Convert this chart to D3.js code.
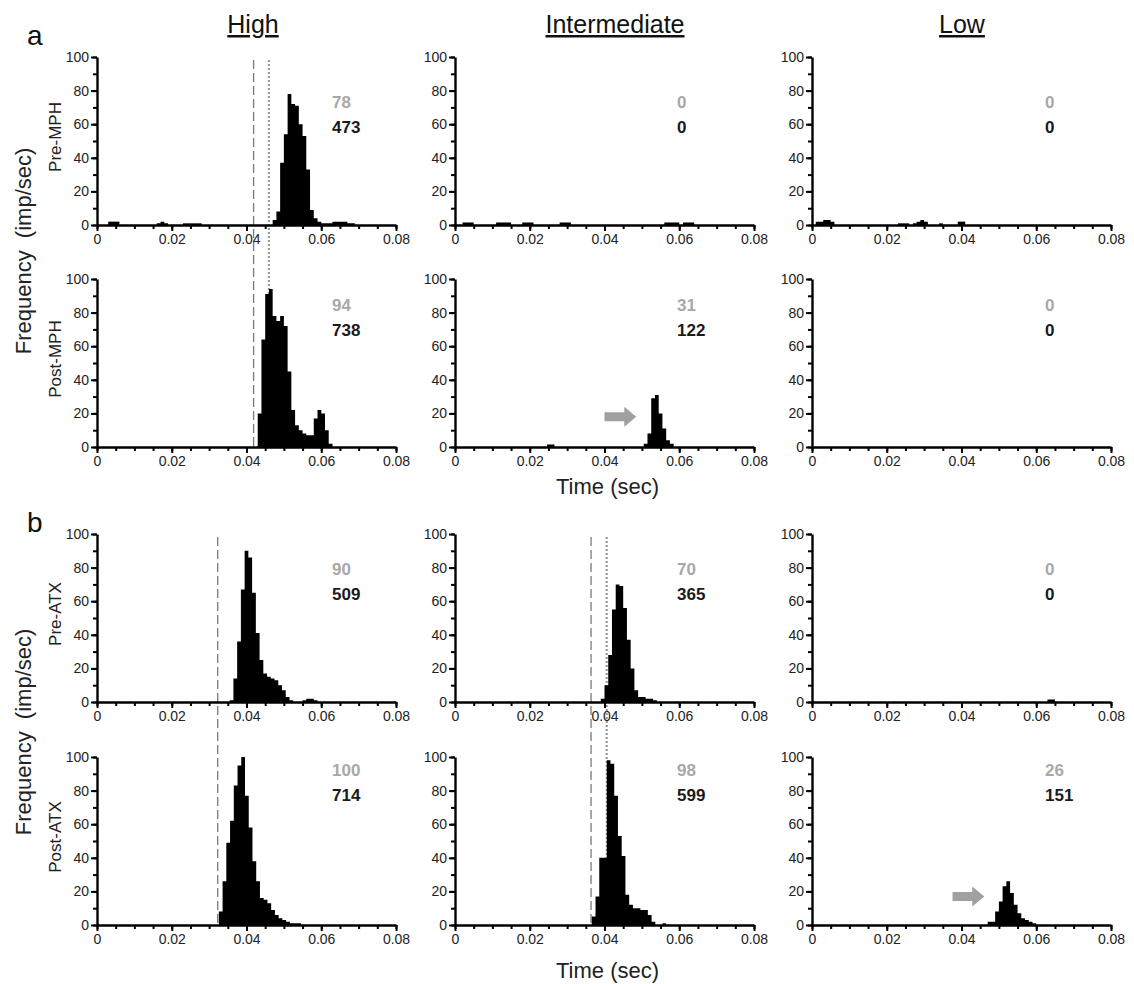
<!DOCTYPE html>
<html>
<head>
<meta charset="utf-8">
<script src="https://cdn.jsdelivr.net/npm/d3@7"></script>
<style>
  body { margin: 0; background: #fff; }
  svg { display: block; font-family: "Liberation Sans", Arial, sans-serif; }
</style>
</head>
<body>
<div id="chart"></div>
<script>
// ---- data ----
const groups = ['High', 'Intermediate', 'Low'];
const conditions = ['Pre-MPH', 'Post-MPH', 'Pre-ATX', 'Post-ATX'];
const xTicks = [0, 0.02, 0.04, 0.06, 0.08];
const yTicks = [0, 20, 40, 60, 80, 100];

// histogram runs: [start of first 1 ms bin (ms), rates (imp/sec) of consecutive bins]
const preMPH_high = [[3, [2, 2, 2]], [16, [1, 2, 1]], [23, [1, 1, 1, 1, 1]],
  [47, [3, 8, 37, 54, 78, 72, 71, 60, 53, 33, 9, 4, 2, 1, 1, 1, 2, 2, 2, 2, 1, 1]]];
const preMPH_int = [[2, [1.5, 1.5, 1.5]], [11, [1.5, 1.5, 1.5, 1.5]], [18, [1.5, 1.5, 1.5]],
  [28, [1.5, 1.5, 1.5]], [56, [1.5, 1.5, 1.5, 1.5]], [61, [1.5, 1.5, 1.5]]];
const preMPH_low = [[1, [2, 2, 3, 3, 2]], [23, [1, 1, 1]], [27, [1, 2, 3, 2]], [34, [1]], [39, [2, 2]]];

const postMPH_high = [[43, [20, 64, 91, 94, 78, 75, 78, 72, 45, 22, 13, 10, 8, 7, 7, 17, 22, 20, 10, 2]]];
const postMPH_int = [[24.6, [1.5, 1.5]], [50.5, [2, 8, 29, 31, 20, 11, 4, 2]]];
const postMPH_low = [];

const preATX_high = [[35.5, [1, 14, 36, 67, 90, 86, 65, 41, 25, 17, 15, 14, 13, 10, 7, 3, 1]], [55, [1, 2, 2, 1]]];
const preATX_int = [[39, [2, 10, 28, 55, 70, 69, 56, 37, 20, 7, 3, 3, 2, 2, 1]]];
const preATX_low = [[63, [1.5, 1.5]]];

const postATX_high = [[32.6, [8, 26, 49, 62, 83, 95, 100, 77, 58, 38, 26, 16, 15, 13, 9, 6, 4, 3, 2, 1, 1, 1]]];
const postATX_int = [[36.6, [5, 17, 40, 40, 98, 96, 77, 53, 41, 18, 12, 10, 10, 9, 9, 6, 2]], [55.5, [1]]];
const postATX_low = [[47, [2, 2, 8, 14, 23, 26, 19, 12, 7, 4, 3, 2, 1]]];

const histograms = [
  [preMPH_high, preMPH_int, preMPH_low],
  [postMPH_high, postMPH_int, postMPH_low],
  [preATX_high, preATX_int, preATX_low],
  [postATX_high, postATX_int, postATX_low]
];

const grayCounts = [[78, 0, 0], [94, 31, 0], [90, 70, 0], [100, 98, 26]];
const blackCounts = [[473, 0, 0], [738, 122, 0], [509, 365, 0], [714, 599, 151]];

// latency markers: [block (0 = a, 1 = b), column, time (sec), style]
const latencyLines = [
  [0, 0, 0.0419, 'dashed'], [0, 0, 0.0460, 'dotted'],
  [1, 0, 0.0323, 'dashed'],
  [1, 1, 0.0364, 'dashed'], [1, 1, 0.0406, 'dotted']
];
// arrows: [row, column, from (sec), to (sec), level (imp/sec)]
const arrows = [[1, 1, 0.0400, 0.0485, 18], [3, 2, 0.0376, 0.0461, 17]];

// ---- layout ----
const W = 1134, H = 984;
const colX = [97, 455, 812];
const rowY = [57, 279, 534, 757];
const pw = 299, ph = 168;
const noteX = [235, 222, 233];
const noteY = [51, 32, 41, 19];

const svg = d3.select('#chart').append('svg').attr('width', W).attr('height', H);

const x = d3.scaleLinear().domain([0, 0.08]).range([0, pw]);
const y = d3.scaleLinear().domain([0, 100]).range([ph, 0]);
const fmt = d => d === 0 ? '0' : d.toFixed(2);

// latency lines go behind the bars, spanning both rows of a block
latencyLines.forEach(([block, col, t, style]) => {
  const top = rowY[block * 2] + 3;
  const bottom = rowY[block * 2 + 1] + ph;
  svg.append('line')
    .attr('x1', colX[col] + x(t)).attr('x2', colX[col] + x(t))
    .attr('y1', top).attr('y2', bottom)
    .attr('stroke', style === 'dashed' ? '#7a7a7a' : '#9a9a9a')
    .attr('stroke-width', style === 'dashed' ? 1.3 : 2.2)
    .attr('stroke-dasharray', style === 'dashed' ? '9,4' : '2,2');
});

const area = d3.area()
  .x(d => x(d.t))
  .y0(ph)
  .y1(d => y(d.v))
  .curve(d3.curveStepAfter);

histograms.forEach((row, r) => {
  row.forEach((runs, c) => {
    const g = svg.append('g').attr('transform', `translate(${colX[c]},${rowY[r]})`);
    // each run of consecutive bins drawn as one solid step shape
    const shapes = runs.map(([start, vals]) => {
      const pts = vals.map((v, i) => ({ t: (start + i) / 1000, v }));
      pts.push({ t: (start + vals.length) / 1000, v: vals[vals.length - 1] });
      return pts;
    });
    g.append('g').selectAll('path')
      .data(shapes)
      .join('path')
      .attr('d', area)
      .attr('fill', '#000');

    // minor ticks
    g.append('g').attr('transform', `translate(0,${ph})`)
      .call(d3.axisBottom(x).tickValues(d3.range(0, 17).map(i => i * 0.005)).tickSize(4).tickFormat(''))
      .call(a => a.select('.domain').remove())
      .call(a => a.selectAll('line').attr('stroke-width', 2));
    g.append('g')
      .call(d3.axisLeft(y).tickValues(d3.range(0, 11).map(i => i * 10)).tickSize(4).tickFormat(''))
      .call(a => a.select('.domain').remove())
      .call(a => a.selectAll('line').attr('stroke-width', 2));

    const xa = g.append('g').attr('transform', `translate(0,${ph})`)
      .call(d3.axisBottom(x).tickValues(xTicks).tickFormat(fmt).tickSize(6).tickSizeOuter(0).tickPadding(3));
    const ya = g.append('g')
      .call(d3.axisLeft(y).tickValues(yTicks).tickSize(6).tickSizeOuter(0).tickPadding(2));
    [xa, ya].forEach(a => {
      a.select('.domain').attr('stroke-width', 2.4);
      a.selectAll('line').attr('stroke-width', 2);
      a.selectAll('text').attr('font-size', 14).attr('fill', '#222')
        .attr('font-family', '"Liberation Sans", Arial, sans-serif');
    });

    g.append('text').attr('x', noteX[c]).attr('y', noteY[r])
      .attr('font-size', 17).attr('font-weight', 'bold').attr('fill', '#a8a8a8')
      .text(grayCounts[r][c]);
    g.append('text').attr('x', noteX[c]).attr('y', noteY[r] + 25)
      .attr('font-size', 17).attr('font-weight', 'bold').attr('fill', '#1a1a1a')
      .text(blackCounts[r][c]);
  });
});

// gray block arrows
arrows.forEach(([r, c, t0, t1, lvl]) => {
  const x0 = colX[c] + x(t0), x1 = colX[c] + x(t1), yc = rowY[r] + y(lvl);
  const hx = x1 - 12;
  svg.append('path')
    .attr('d', `M${x0},${yc - 4.5}L${hx},${yc - 4.5}L${hx},${yc - 10}L${x1},${yc}L${hx},${yc + 10}L${hx},${yc + 4.5}L${x0},${yc + 4.5}Z`)
    .attr('fill', '#a0a0a0');
});

// column headers
const headX = [253, 615, 962];
groups.forEach((t, i) => {
  svg.append('text').attr('x', headX[i]).attr('y', 33)
    .attr('text-anchor', 'middle').attr('font-size', 25)
    .style('text-decoration', 'underline').attr('fill', '#111').text(t);
});

// row labels
conditions.forEach((t, r) => {
  const cy = rowY[r] + ph / 2 - 4;
  svg.append('text').attr('transform', `translate(55,${cy}) rotate(-90)`)
    .attr('text-anchor', 'middle').attr('dominant-baseline', 'central')
    .attr('font-size', 17).attr('fill', '#222').text(t);
});

// shared y labels, block letters, x labels
[[251, 'a', 45], [732, 'b', 532]].forEach(([cy, letter, ly]) => {
  svg.append('text').attr('transform', `translate(23,${cy}) rotate(-90)`)
    .attr('text-anchor', 'middle').attr('dominant-baseline', 'central')
    .attr('font-size', 22).attr('fill', '#222').text('Frequency\u00a0\u00a0(imp/sec)');
  svg.append('text').attr('x', 27).attr('y', ly)
    .attr('font-size', 28).attr('fill', '#111').text(letter);
});
[494, 978].forEach(by => {
  svg.append('text').attr('x', colX[1] + pw / 2 + 3).attr('y', by)
    .attr('text-anchor', 'middle').attr('font-size', 22).attr('fill', '#222').text('Time (sec)');
});
</script>
</body>
</html>
